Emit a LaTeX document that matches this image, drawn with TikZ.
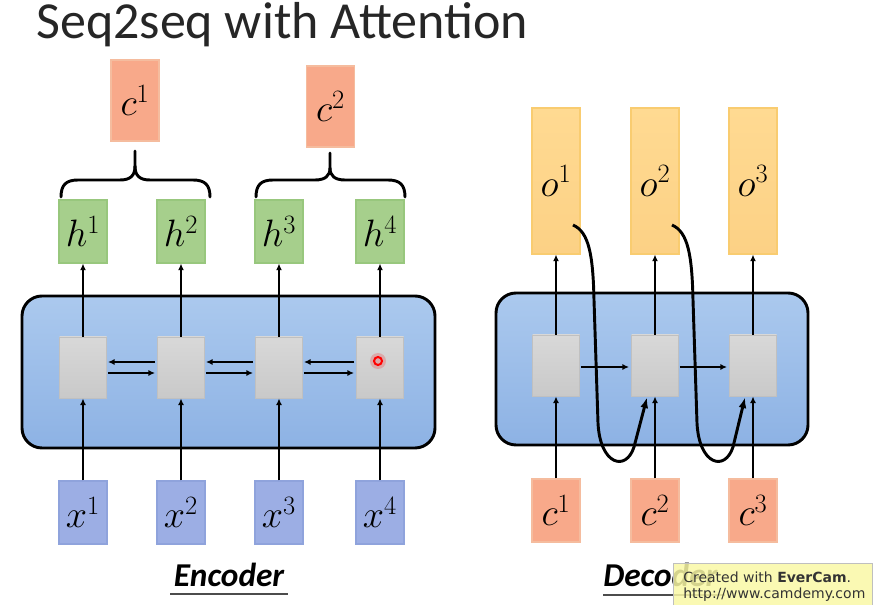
\documentclass[tikz,border=0pt]{standalone}
\usepackage{fontspec}
\newfontfamily\carl{Carlito}
\newfontfamily\wmfont{DejaVu Sans}
\usetikzlibrary{arrows.meta,calc}
\definecolor{cfill}{HTML}{F8A98A}
\definecolor{cdraw}{HTML}{F5BC9E}
\definecolor{hfill}{HTML}{A6CF8C}
\definecolor{hdraw}{HTML}{98C77D}
\definecolor{xfill}{HTML}{9CAEE4}
\definecolor{xdraw}{HTML}{8FA3DC}
\definecolor{otop}{HTML}{FFDA92}
\definecolor{obot}{HTML}{FCD185}
\definecolor{odraw}{HTML}{F9CC70}
\definecolor{gtop}{HTML}{D8D8D8}
\definecolor{gbot}{HTML}{C9C9C9}
\definecolor{gdraw}{HTML}{C0C0C0}
\definecolor{btop}{HTML}{ABC9EE}
\definecolor{bbot}{HTML}{8DB2E4}
\definecolor{wmyellow}{HTML}{FAF8A6}
\newcommand{\mlab}[1]{\scalebox{1.15}{$#1$}}
\begin{document}
\begin{tikzpicture}[x=0.75pt,y=-0.75pt,
  lbl/.style={font=\fontsize{24}{28}\selectfont, inner sep=0pt},
  cbox/.style={lbl, draw=cdraw, fill=cfill, line width=0.8pt, minimum width=48*0.75pt},
  hbox/.style={lbl, draw=hdraw, fill=hfill, line width=0.8pt, minimum width=48*0.75pt, minimum height=63*0.75pt},
  xbox/.style={lbl, draw=xdraw, fill=xfill, line width=0.8pt, minimum width=48*0.75pt, minimum height=63*0.75pt},
  obox/.style={lbl, draw=odraw, top color=otop, bottom color=obot, line width=0.8pt, minimum width=48*0.75pt, minimum height=146*0.75pt},
  cell/.style={draw=gdraw, top color=gtop, bottom color=gbot, line width=0.6pt, minimum width=47*0.75pt, minimum height=61*0.75pt, inner sep=0pt},
  bigbox/.style={draw=black, line width=2.2pt, rounded corners=15pt, top color=btop, bottom color=bbot, inner sep=0pt},
  arr/.style={line width=1.4pt, -{Latex[length=5pt,width=4.5pt]}},
  curv/.style={line width=2.2pt, -{Latex[length=8pt,width=6pt]}},
  brace/.style={line width=2.2pt, line cap=round, line join=round},
  title/.style={font=\carl\fontsize{39}{44}\selectfont, text=black!85, inner sep=0pt, anchor=base west},
  part/.style={font=\carl\bfseries\itshape\fontsize{25}{28}\selectfont, inner sep=0pt}
]
\useasboundingbox (0,0) rectangle (885,605);
\fill[white] (0,0) rectangle (885,605);

% title
\node[title] (ttl) at (36,39) {Seq2seq with Attention};

% ---------------- Encoder ----------------
\node[bigbox, minimum width=413*0.75pt, minimum height=152*0.75pt] (enc) at (228.5,372) {};
\foreach \i/\x in {1/83,2/181,3/279,4/380}{
  \node[cell] (e\i) at (\x,367.5) {};
  \node[hbox] (h\i) at (\x,231.5) {\mlab{h^{\i}}};
  \node[xbox] (x\i) at (\x,512.5) {\mlab{x^{\i}}};
  \draw[arr] (x\i.north) -- (e\i.south);
  \draw[arr] (e\i.north) -- (h\i.south);
}
\foreach \a/\b in {1/2,2/3,3/4}{
  \draw[arr] ($(e\b.west)+(-2,-5.5)$) -- ($(e\a.east)+(1,-5.5)$);
  \draw[arr] ($(e\a.east)+(1,5.5)$) -- ($(e\b.west)+(-2,5.5)$);
}
% laser dot
\fill[red, opacity=0.2] (378,361) circle (8);
\draw[red, line width=1.5pt] (378,361) circle (4);

\node[cbox, minimum height=81*0.75pt] (c1) at (135,100.5) {\mlab{c^{1}}};
\node[cbox, minimum height=81*0.75pt] (c2) at (330.5,106.5) {\mlab{c^{2}}};

% braces
\draw[brace] (61,197) .. controls (61,185) and (66,180) .. (78,180) -- (120,180)
  .. controls (130,180) and (135,176) .. (135,166) -- (135,151);
\draw[brace] (135,166) .. controls (135,176) and (140,180) .. (150,180) -- (193,180)
  .. controls (205,180) and (210,185) .. (210,197);
\draw[brace] (256,197) .. controls (256,185) and (261,180) .. (273,180) -- (315,180)
  .. controls (325,180) and (330,176) .. (330,168) -- (330,153);
\draw[brace] (330,168) .. controls (330,176) and (335,180) .. (345,180) -- (388,180)
  .. controls (400,180) and (405,185) .. (405,197);

\node[part] (enctxt) at (229,575) {Encoder};
\draw[line width=1.2pt, black!70] (170,594) -- (288,594);

% ---------------- Decoder ----------------
\node[bigbox, minimum width=312*0.75pt, minimum height=152*0.75pt] (dec) at (652,369) {};
\foreach \i/\x in {1/556,2/655,3/753}{
  \node[cell] (d\i) at (\x,365.5) {};
  \node[obox] (o\i) at (\x,181) {\mlab{o^{\i}}};
  \node[cbox, minimum height=63*0.75pt] (dc\i) at (\x,510.5) {\mlab{c^{\i}}};
  \draw[arr] (dc\i.north) -- (d\i.south);
  \draw[arr] (d\i.north) -- (o\i.south);
}
\draw[arr] ($(d1.east)+(1,1.5)$) -- ($(d2.west)+(-2,1.5)$);
\draw[arr] ($(d2.east)+(1,1.5)$) -- ($(d3.west)+(-2,1.5)$);

% curved attention arrows
\foreach \s/\t in {1/2,2/3}{
  \coordinate (p\s) at ($(o\s.center)+(17,44)$);
  \coordinate (q\s) at ($(d\t.south)+(-8,1)$);
  \draw[curv] (p\s) .. controls ($(p\s)+(16,7)$) and ($(p\s)+(20,30)$) .. ($(p\s)+(21,75)$)
     -- ($(p\s)+(25,198)$) .. controls ($(p\s)+(27,240)$) and ($(p\s)+(53,247)$) .. ($(p\s)+(61,222)$)
     -- (q\s);
}

\node[part, anchor=west] (dectxt) at (603,575) {Decoder};
\draw[line width=1.2pt, black!70] (603,595) -- (725,595);

% watermark
\node[draw=black!25, fill=wmyellow, fill opacity=0.85, text opacity=1, anchor=north west,
      minimum width=199*0.75pt, minimum height=44*0.75pt, inner sep=0pt] (wm) at (673,563) {};
\node[font=\wmfont\fontsize{10.5}{12}\selectfont, anchor=west, inner sep=0pt, text=black!80] (wm1) at (683,577) {Created with \textbf{EverCam}.};
\node[font=\wmfont\fontsize{10.5}{12}\selectfont, anchor=west, inner sep=0pt, text=black!80] (wm2) at (683,595) {http://www.camdemy.com};
\end{tikzpicture}
\end{document}
